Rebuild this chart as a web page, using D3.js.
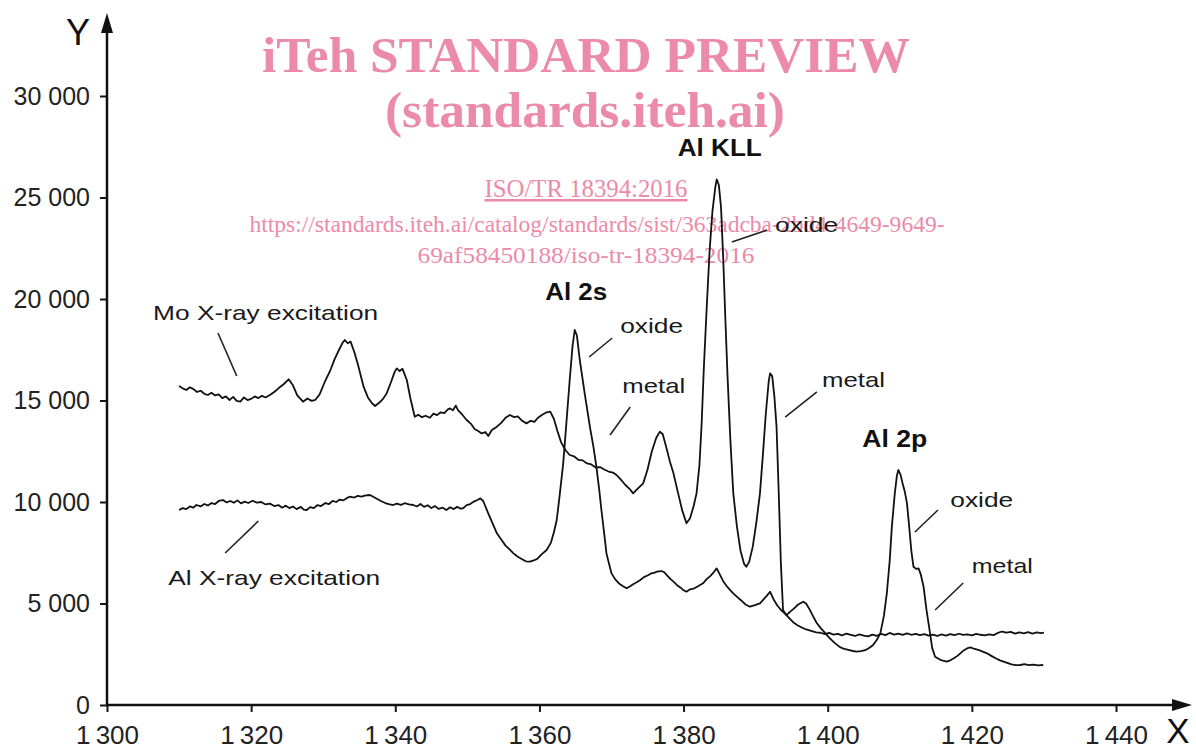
<!DOCTYPE html>
<html>
<head>
<meta charset="utf-8">
<script src="https://cdn.jsdelivr.net/npm/d3@7"></script>
<style>
body { margin: 0; background: #fff; }
svg { display: block; font-family: "Liberation Sans", Arial, sans-serif; }
.curve { fill: none; stroke: #111; stroke-width: 1.8px; stroke-linejoin: round; }
.lead { stroke: #222; stroke-width: 1.6px; }
.note { fill: #1a1a1a; font-size: 21px; }
.peak { fill: #111; font-size: 23px; font-weight: bold; }
.wm text { fill: #ec8aaa; font-family: "Liberation Serif", "Times New Roman", serif; }
</style>
</head>
<body>
<svg id="chart"></svg>
<script>
// spectrum: [kinetic energy, counts]
var moSpectrum = [
  [1310,15714],[1310.5,15600],[1311,15517],[1311.5,15650],[1312,15560],[1312.5,15420],[1313,15480],[1313.5,15330],
  [1314,15270],[1314.5,15380],[1315,15250],[1315.5,15300],[1316,15120],[1316.5,15200],[1317,15025],[1317.5,15180],
  [1318,14980],[1318.5,14941],[1319,15150],[1319.5,15020],[1320,15080],[1320.5,15200],[1321,15120],[1321.5,15230],
  [1322,15150],[1322.6,15270],[1323.2,15420],[1323.8,15600],[1324.5,15800],[1325.2,16044],[1325.8,15750],[1326.4,15250],
  [1327.2,14941],[1327.8,15100],[1328.4,14980],[1328.9,15025],[1329.5,15300],[1330.2,15900],[1331,16502],[1331.6,17050],
  [1332.2,17500],[1332.7,17850],[1333,17980],[1333.4,17820],[1333.8,17900],[1334.3,17400],[1334.8,16800],[1335.6,15680],
  [1336.2,15150],[1336.8,14850],[1337.2,14729],[1337.8,14900],[1338.3,15080],[1338.8,15350],[1339.4,15900],[1339.9,16400],
  [1340.2,16585],[1340.6,16450],[1341,16560],[1341.6,16010],[1342.1,15100],[1342.7,14200],[1343.2,14300],[1343.7,14180],
  [1344.2,14250],[1344.8,14150],[1345.3,14350],[1345.8,14280],[1346.3,14420],[1346.8,14380],[1347.3,14560],[1347.6,14610],
  [1348,14520],[1348.4,14750],[1348.7,14530],[1349.3,14300],[1349.9,14039],[1350.5,13850],[1351,13600],[1351.5,13500],
  [1352,13380],[1352.5,13450],[1352.9,13250],[1353.4,13550],[1354.1,13710],[1354.7,13900],[1355.3,14150],[1355.9,14286],
  [1356.5,14180],[1357,14220],[1357.6,14000],[1358.2,13874],[1358.8,14000],[1359.3,13950],[1359.8,14150],[1360.4,14300],
  [1361,14420],[1361.5,14450],[1362,14100],[1362.5,13500],[1363,12950],[1363.6,12562],[1364.2,12315],[1364.8,12250],
  [1365.4,12080],[1366,12050],[1366.6,11900],[1367.2,11850],[1367.8,11700],[1368.4,11720],[1369,11600],[1369.6,11500],
  [1370.2,11450],[1370.7,11330],[1371.3,11100],[1371.9,10850],[1372.5,10650],[1373,10427],[1373.6,10650],[1374.4,10920],
  [1375,11600],[1375.6,12500],[1376.2,13150],[1376.7,13464],[1377.1,13350],[1377.6,12700],[1378.1,12000],[1378.6,11412],
  [1379.2,10500],[1379.8,9600],[1380.4,8950],[1380.9,9200],[1381.4,9800],[1381.8,10427],[1382.2,11800],[1382.5,13800],
  [1382.8,16500],[1383.2,19500],[1383.6,22300],[1384,24300],[1384.4,25500],[1384.6,25897],[1384.9,25600],[1385.2,24500],
  [1385.5,22000],[1385.8,19000],[1386.1,16200],[1386.5,13000],[1386.9,10427],[1387.4,8800],[1387.9,7600],[1388.4,6950],
  [1388.7,6810],[1389.1,7050],[1389.6,7800],[1390.1,9000],[1390.6,10427],[1391,12300],[1391.4,14300],[1391.8,15900],
  [1392,16340],[1392.3,16200],[1392.6,15200],[1392.9,13710],[1393.2,10500],[1393.5,7000],[1393.8,4680],[1394.2,4450],
  [1394.6,4300],[1395.2,4080],[1395.8,3930],[1396.4,3820],[1397,3720],[1397.7,3650],[1398.4,3580],[1399,3560],
  [1399.6,3490],[1400.2,3550],[1400.8,3470],[1401.4,3500],[1402,3430],[1402.6,3520],[1403.2,3460],[1403.8,3400],
  [1404.4,3480],[1405,3420],[1405.6,3380],[1406.2,3470],[1406.8,3410],[1407.4,3500],[1408,3440],[1408.6,3550],
  [1409.2,3470],[1409.8,3520],[1410.4,3450],[1411,3530],[1411.6,3460],[1412.2,3500],[1412.8,3440],[1413.4,3490],
  [1414,3420],[1414.6,3470],[1415.2,3400],[1415.8,3480],[1416.4,3420],[1417,3490],[1417.6,3440],[1418.2,3510],
  [1418.8,3450],[1419.4,3480],[1420,3430],[1420.6,3500],[1421.2,3460],[1421.8,3430],[1422.4,3480],[1423,3440],
  [1423.6,3550],[1424.2,3620],[1424.8,3560],[1425.4,3600],[1426,3520],[1426.6,3580],[1427.2,3530],[1427.8,3590],
  [1428.4,3520],[1429,3580],[1429.6,3540],[1430,3570]
];

var alSpectrum = [
  [1310,9606],[1310.5,9700],[1311,9650],[1311.5,9780],[1312,9720],[1312.4,9852],[1313,9780],[1313.5,9900],
  [1314,9830],[1314.5,9950],[1315,9900],[1315.5,10050],[1316.1,10098],[1316.6,9980],[1317.1,10050],[1317.6,9960],
  [1318.1,10080],[1318.6,9930],[1319.1,10020],[1319.6,9950],[1320.2,10060],[1320.8,9966],[1321.4,10000],[1322,9880],
  [1322.6,9920],[1323.2,9800],[1323.8,9850],[1324.3,9720],[1324.8,9820],[1325.3,9700],[1325.8,9780],[1326.3,9650],
  [1326.9,9760],[1327.3,9620],[1327.7,9606],[1328.2,9750],[1328.7,9700],[1329.2,9850],[1329.7,9800],[1330.3,9950],
  [1330.8,9900],[1331.3,10050],[1331.8,10000],[1332.3,10120],[1332.8,10080],[1333.3,10200],[1333.7,10261],[1334.3,10220],
  [1334.8,10300],[1335.3,10260],[1335.9,10330],[1336.5,10345],[1337,10250],[1337.5,10150],[1338,10050],[1338.6,9950],
  [1339.1,9900],[1339.7,9852],[1340.2,9920],[1340.8,9860],[1341.3,9940],[1341.9,9880],[1342.5,9852],[1343,9780],
  [1343.5,9900],[1344,9760],[1344.5,9840],[1345,9700],[1345.5,9800],[1346,9660],[1346.6,9720],[1347.1,9606],
  [1347.6,9740],[1348.1,9650],[1348.6,9760],[1349,9680],[1349.4,9688],[1349.9,9850],[1350.4,9900],[1350.9,10020],
  [1351.4,10100],[1351.8,10180],[1352.2,10050],[1352.6,9700],[1352.9,9440],[1353.5,8950],[1354.1,8456],[1354.7,8150],
  [1355.3,7850],[1355.9,7650],[1356.4,7470],[1357,7300],[1357.6,7180],[1358.1,7080],[1358.7,7060],[1359.2,7120],
  [1359.7,7200],[1360.3,7420],[1361,7635],[1361.6,8000],[1362,8500],[1362.4,9113],[1362.8,10300],[1363.3,11905],
  [1363.7,13700],[1364.2,16010],[1364.6,17700],[1364.9,18473],[1365.2,18200],[1365.6,16995],[1366.3,15300],[1367,13710],
  [1367.5,12700],[1367.9,11740],[1368.3,10600],[1368.6,9606],[1369,8400],[1369.3,7470],[1369.7,6900],[1370,6485],
  [1370.5,6200],[1371,6000],[1371.6,5850],[1372.1,5747],[1372.6,5850],[1373,5950],[1373.5,6050],[1374,6158],
  [1374.5,6300],[1375,6380],[1375.5,6480],[1376,6520],[1376.3,6568],[1376.9,6600],[1377.3,6550],[1377.8,6350],
  [1378.2,6200],[1378.6,6075],[1379.1,5900],[1379.6,5780],[1380,5650],[1380.4,5582],[1380.9,5700],[1381.5,5750],
  [1382,5850],[1382.7,5993],[1383.2,6200],[1383.7,6350],[1384.2,6550],[1384.6,6732],[1385,6450],[1385.5,6100],
  [1386,5850],[1386.5,5650],[1386.9,5500],[1387.5,5300],[1388,5150],[1388.6,4950],[1389.2,4842],[1389.9,4920],
  [1390.6,5008],[1391.1,5200],[1391.6,5400],[1392,5582],[1392.5,5200],[1393,4900],[1393.6,4650],[1394.3,4433],
  [1394.8,4600],[1395.3,4750],[1395.9,4950],[1396.6,5090],[1397,5000],[1397.5,4700],[1398,4350],[1398.5,4024],
  [1399,3800],[1399.5,3600],[1400.3,3285],[1401,3050],[1401.7,2850],[1402.3,2760],[1403,2700],[1403.5,2660],
  [1404,2627],[1404.6,2650],[1405.2,2700],[1405.8,2820],[1406.3,2956],[1406.8,3200],[1407.3,3530],[1407.8,4400],
  [1408.2,5500],[1408.6,7100],[1408.9,8785],[1409.3,10400],[1409.6,11300],[1409.8,11576],[1410.1,11350],[1410.4,10900],
  [1410.7,10500],[1411,9934],[1411.3,8800],[1411.6,7600],[1411.9,6810],[1412.3,6700],[1412.6,6732],[1412.9,6450],
  [1413.3,5828],[1413.7,4700],[1414.2,3530],[1414.5,2800],[1414.9,2380],[1415.5,2250],[1416,2180],[1416.5,2134],
  [1417,2200],[1417.5,2300],[1418,2420],[1418.4,2545],[1418.9,2700],[1419.4,2800],[1419.8,2840],[1420.4,2760],
  [1421,2700],[1421.6,2620],[1422.1,2545],[1422.7,2420],[1423.3,2300],[1423.9,2200],[1424.4,2134],[1425,2060],
  [1425.5,2000],[1426.1,1960],[1426.7,1970],[1427.3,2010],[1427.9,1960],[1428.5,1990],[1429.2,1950],[1429.9,1970]
];

var xTicks = [1300, 1320, 1340, 1360, 1380, 1400, 1420, 1440];
var yTicks = [0, 5000, 10000, 15000, 20000, 25000, 30000];

// labels and their leader lines, in data units
var notes = [
  {text: 'Mo X-ray excitation', at: [1306.4, 18966], w: 225, lead: [1315.4, 18325, 1318.0, 16207]},
  {text: 'Al X-ray excitation', at: [1308.5, 5911], w: 212, lead: [1316.4, 7488, 1321.0, 9064]},
  {text: 'oxide', at: [1371.2, 18325], w: 63, lead: [1370.1, 18079, 1366.9, 17143]},
  {text: 'metal', at: [1371.5, 15369], w: 63, lead: [1372.6, 14680, 1369.8, 13300]},
  {text: 'oxide', at: [1392.7, 23300], w: 63, lead: [1386.7, 22808, 1391.6, 23399]},
  {text: 'metal', at: [1399.2, 15665], w: 63, lead: [1398.5, 15419, 1394.1, 14187]},
  {text: 'oxide', at: [1417.0, 9754], w: 63, lead: [1415.3, 9606, 1412.1, 8522]},
  {text: 'metal', at: [1420.0, 6502], w: 61, lead: [1418.8, 6010, 1414.9, 4680]}
];
var peaks = [
  {text: 'Al 2s', at: [1360.8, 19951], w: 62},
  {text: 'Al KLL', at: [1379.2, 27044], w: 84},
  {text: 'Al 2p', at: [1404.8, 12709], w: 65}
];

var watermark = [
  {text: 'iTeh STANDARD PREVIEW', x: 586, y: 72, size: 51, bold: true, w: 648},
  {text: '(standards.iteh.ai)', x: 585, y: 127, size: 51, bold: true, w: 400},
  {text: 'ISO/TR 18394:2016', x: 586, y: 197, size: 25, under: true, w: 203},
  {text: 'https://standards.iteh.ai/catalog/standards/sist/363adcba-2bd4-4649-9649-', x: 597, y: 232, size: 23, w: 695},
  {text: '69af58450188/iso-tr-18394-2016', x: 586, y: 263, size: 23, w: 337}
];

var width = 1196, height = 749;
var x = d3.scaleLinear().domain([1300, 1440]).range([107, 1116]);
var y = d3.scaleLinear().domain([0, 30000]).range([705, 96]);

var svg = d3.select('#chart').attr('width', width).attr('height', height);

// watermark first, the chart sits on top of it
var wm = svg.append('g').attr('class', 'wm');
wm.selectAll('text').data(watermark).enter().append('text')
  .attr('x', (d) => d.x)
  .attr('y', (d) => d.y)
  .attr('text-anchor', 'middle')
  .attr('font-size', (d) => d.size)
  .attr('font-weight', (d) => d.bold ? 'bold' : 'normal')
  .attr('text-decoration', (d) => d.under ? 'underline' : null)
  .attr('textLength', (d) => d.w)
  .attr('lengthAdjust', 'spacingAndGlyphs')
  .text((d) => d.text);

// axes
var fmtY = (d) => d3.format(',')(d).replace(',', ' ');
var fmtX = (d) => d3.format(',')(d).replace(',', '\u2009');

var gy = svg.append('g').attr('transform', 'translate(' + x(1300) + ',0)')
  .call(d3.axisLeft(y).tickValues(yTicks).tickSize(7).tickPadding(10).tickFormat(fmtY));
gy.select('.domain').remove();
gy.attr('font-size', 25).attr('font-family', '"Liberation Sans", Arial, sans-serif').attr('color', '#151515');
gy.selectAll('line').attr('stroke-width', 2);
gy.selectAll('text').attr('fill', '#222');

var gx = svg.append('g').attr('transform', 'translate(0,' + y(0) + ')')
  .call(d3.axisBottom(x).tickValues(xTicks).tickSize(7).tickPadding(14).tickFormat(fmtX));
gx.select('.domain').remove();
gx.attr('font-size', 26).attr('font-family', '"Liberation Sans", Arial, sans-serif').attr('color', '#151515');
gx.selectAll('line').attr('stroke-width', 2);
gx.selectAll('text').attr('fill', '#222');

// axis lines with arrow heads
var ax0 = x(1300), ay0 = y(0);
var yTop = 13, xEnd = 1192;
svg.append('line').attr('x1', ax0).attr('y1', ay0 + 1).attr('x2', ax0).attr('y2', yTop + 10)
  .attr('stroke', '#111').attr('stroke-width', 2.5);
svg.append('path').attr('fill', '#111')
  .attr('d', 'M' + ax0 + ',' + yTop + 'L' + (ax0 - 6) + ',' + (yTop + 20) + 'L' + (ax0 + 6) + ',' + (yTop + 20) + 'Z');
svg.append('line').attr('x1', ax0 - 1).attr('y1', ay0).attr('x2', xEnd - 10).attr('y2', ay0)
  .attr('stroke', '#111').attr('stroke-width', 2.5);
svg.append('path').attr('fill', '#111')
  .attr('d', 'M' + xEnd + ',' + ay0 + 'L' + (xEnd - 20) + ',' + (ay0 - 6) + 'L' + (xEnd - 20) + ',' + (ay0 + 6) + 'Z');

svg.append('text').attr('x', 78).attr('y', 45).attr('text-anchor', 'middle')
  .attr('font-size', 36).attr('fill', '#111').text('Y');
svg.append('text').attr('x', 1178).attr('y', 743).attr('text-anchor', 'middle')
  .attr('font-size', 35).attr('fill', '#111').text('X');

// spectra
var line = d3.line().x((d) => x(d[0])).y((d) => y(d[1]));
svg.append('path').attr('class', 'curve').attr('d', line(moSpectrum));
svg.append('path').attr('class', 'curve').attr('d', line(alSpectrum));

// annotations
svg.selectAll('line.lead').data(notes).enter().append('line')
  .attr('class', 'lead')
  .attr('x1', (d) => x(d.lead[0])).attr('y1', (d) => y(d.lead[1]))
  .attr('x2', (d) => x(d.lead[2])).attr('y2', (d) => y(d.lead[3]));
svg.selectAll('text.note').data(notes).enter().append('text')
  .attr('class', 'note')
  .attr('x', (d) => x(d.at[0])).attr('y', (d) => y(d.at[1]))
  .attr('textLength', (d) => d.w).attr('lengthAdjust', 'spacingAndGlyphs')
  .text((d) => d.text);
svg.selectAll('text.peak').data(peaks).enter().append('text')
  .attr('class', 'peak')
  .attr('x', (d) => x(d.at[0])).attr('y', (d) => y(d.at[1]))
  .attr('textLength', (d) => d.w).attr('lengthAdjust', 'spacingAndGlyphs')
  .text((d) => d.text);
</script>
</body>
</html>
